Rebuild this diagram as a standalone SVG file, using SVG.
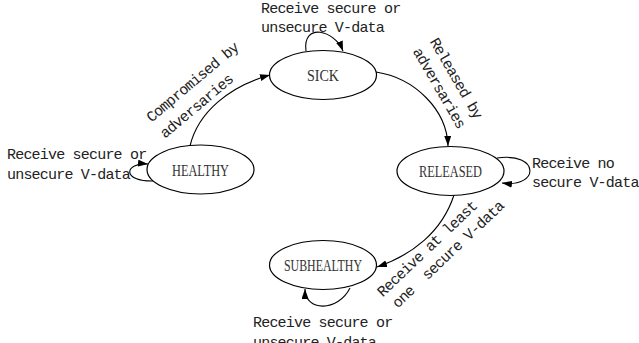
<svg xmlns="http://www.w3.org/2000/svg" width="639" height="343" viewBox="0 0 639 343">
<style>
.bg{fill:#fff}
.node ellipse{fill:#fff;stroke:#000;stroke-width:1.2}
.node text{font-family:"Liberation Serif",serif;font-size:17px;fill:#333;text-anchor:middle}
.edge{fill:none;stroke:#000;stroke-width:1.1;marker-end:url(#arr)}
.lbl{font-family:"Liberation Mono",monospace;font-size:15px;letter-spacing:-0.8px;fill:#222}
</style>
<defs>
<marker id="arr" markerUnits="userSpaceOnUse" markerWidth="10" markerHeight="8" refX="10" refY="3.5" orient="auto">
<path d="M0,0 L10,3.5 L0,7 z" fill="#000"/>
</marker>
</defs>
<rect class="bg" width="639" height="343"/>
<g id="connectors">
<path class="edge" d="M190,146 C198,112 230,86 270,75"/>
<path class="edge" d="M376,72 C415,78 447,110 448,146"/>
<path class="edge" d="M454,195 C442,232 412,255 377,267"/>
<path class="edge" d="M306,51 C302,22 335,30 343,51"/>
<path class="edge" d="M155,181 C120,182 125,162 148,164"/>
<path class="edge" d="M497,158 C540,152 540,188 502,183"/>
<path class="edge" d="M350,288 C338,312 305,312 305,289"/>
</g>
<g id="healthy" class="node">
<ellipse cx="200.5" cy="169.5" rx="53.5" ry="24.5"/>
<text x="200.5" y="175.5" textLength="57" lengthAdjust="spacingAndGlyphs">HEALTHY</text>
</g>
<g id="sick" class="node">
<ellipse cx="323" cy="75" rx="53.5" ry="24.5"/>
<text x="323" y="80.5" textLength="32" lengthAdjust="spacingAndGlyphs">SICK</text>
</g>
<g id="released" class="node">
<ellipse cx="450.5" cy="171" rx="53.5" ry="24.5"/>
<text x="450.5" y="176.5" textLength="63" lengthAdjust="spacingAndGlyphs">RELEASED</text>
</g>
<g id="subhealthy" class="node">
<ellipse cx="323" cy="265" rx="53.5" ry="24.5"/>
<text x="323" y="270.5" textLength="78" lengthAdjust="spacingAndGlyphs">SUBHEALTHY</text>
</g>
<g id="labels">
<text class="lbl" x="261" y="12.5">Receive secure or</text>
<text class="lbl" x="261" y="31.5">unsecure V-data</text>
<text class="lbl" x="7" y="159">Receive secure or</text>
<text class="lbl" x="7" y="179">unsecure V-data</text>
<text class="lbl" x="532" y="167.5">Receive no</text>
<text class="lbl" x="532" y="187">secure V-data</text>
<text class="lbl" x="253" y="327">Receive secure or</text>
<text class="lbl" x="253" y="346.5">unsecure V-data</text>
<g transform="translate(151.5,122.7) rotate(-40)">
<text class="lbl" x="0" y="0">Compromised by</text>
<text class="lbl" x="0" y="21">adversaries</text>
</g>
<g transform="translate(429.5,41.5) rotate(60)">
<text class="lbl" x="0" y="0">Released by</text>
<text class="lbl" x="0" y="19.5">adversaries</text>
</g>
<g transform="translate(382.8,297.4) rotate(-43.5)">
<text class="lbl" x="0" y="0">Receive at least</text>
<text class="lbl" x="3" y="18.5" xml:space="preserve">one  secure V-data</text>
</g>
</g>
</svg>
